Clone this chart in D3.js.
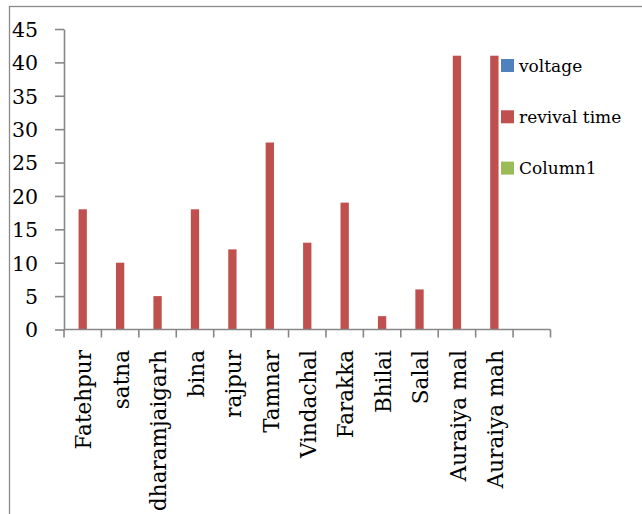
<!DOCTYPE html>
<html>
<head>
<meta charset="utf-8">
<script src="https://cdn.jsdelivr.net/npm/d3@7"></script>
<style>
  html, body { margin: 0; padding: 0; background: #fff; }
  svg { display: block; }
</style>
</head>
<body>
<svg id="chart" width="642" height="514"></svg>
<script>
// Stations (the last slot is an empty category)
const categories = ["Fatehpur", "satna", "dharamjaigarh", "bina", "rajpur", "Tamnar",
  "Vindachal", "Farakka", "Bhilai", "Salal", "Auraiya mal", "Auraiya mah", ""];
const seriesNames = ["voltage", "revival time", "Column1"];
const seriesColors = ["#4F81BD", "#C0504D", "#9BBB59"];
const voltage = [null, null, null, null, null, null, null, null, null, null, null, null, null];
const revivalTime = [18, 10, 5, 18, 12, 28, 13, 19, 2, 6, 41, 41, null];
const column1 = [null, null, null, null, null, null, null, null, null, null, null, null, null];
const yTicks = [0, 5, 10, 15, 20, 25, 30, 35, 40, 45];

const seriesValues = [voltage, revivalTime, column1];
const svg = d3.select("#chart");
const axisColor = "#878787";
const font = "'DejaVu Serif', serif";

// outer frame of the chart area
svg.append("rect")
  .attr("x", 9.5).attr("y", 6.5)
  .attr("width", 700).attr("height", 600)
  .attr("fill", "none").attr("stroke", "#8a8a8a").attr("stroke-width", 1.3);

const plot = { left: 64, right: 550.5, top: 29, bottom: 329.5 };

const x = d3.scaleBand().domain(d3.range(categories.length))
  .range([plot.left, plot.right]).paddingInner(0).paddingOuter(0);
const x1 = d3.scaleBand().domain(seriesNames)
  .range([0, x.bandwidth()]).paddingInner(0).paddingOuter(0.75);
const y = d3.scaleLinear().domain([0, 45]).range([plot.bottom, plot.top]);

// bars
seriesNames.forEach((name, si) => {
  svg.append("g").selectAll("rect")
    .data(seriesValues[si].map((v, i) => ({ v, i })).filter(d => d.v != null))
    .join("rect")
    .attr("x", d => x(d.i) + x1(name))
    .attr("width", x1.bandwidth())
    .attr("y", d => y(d.v))
    .attr("height", d => y(0) - y(d.v))
    .attr("fill", seriesColors[si]);
});

// y axis
const yAxis = svg.append("g")
  .attr("transform", `translate(${plot.left},0)`)
  .call(d3.axisLeft(y).tickValues(yTicks).tickSize(9).tickSizeOuter(0).tickPadding(17));
yAxis.select(".domain").attr("stroke", axisColor).attr("stroke-width", 1.6);
yAxis.selectAll(".tick line").attr("stroke", axisColor).attr("stroke-width", 1.6);
yAxis.selectAll(".tick text")
  .attr("fill", "#000").style("font-family", font).style("font-size", "20.5px")
  .attr("dy", "0.36em");

// x axis with boundary ticks between categories
const xg = svg.append("g");
xg.append("line")
  .attr("x1", plot.left).attr("x2", plot.right)
  .attr("y1", plot.bottom).attr("y2", plot.bottom)
  .attr("stroke", axisColor).attr("stroke-width", 1.6);
xg.selectAll("line.tk")
  .data(d3.range(categories.length + 1))
  .join("line").attr("class", "tk")
  .attr("x1", i => plot.left + i * x.step()).attr("x2", i => plot.left + i * x.step())
  .attr("y1", plot.bottom).attr("y2", plot.bottom + 8)
  .attr("stroke", axisColor).attr("stroke-width", 1.6);
xg.selectAll("text")
  .data(categories.map((c, i) => ({ c, i })))
  .join("text")
  .attr("transform", d => `translate(${x(d.i) + x.bandwidth() / 2 + 1},350) rotate(-90)`)
  .attr("text-anchor", "end")
  .attr("dy", "0.36em")
  .style("font-family", font).style("font-size", "21.5px")
  .attr("fill", "#000")
  .text(d => d.c);

// legend
const legend = svg.append("g").attr("transform", "translate(501,59)");
seriesNames.forEach((name, i) => {
  const g = legend.append("g").attr("transform", `translate(0,${i * 51.3})`);
  g.append("rect").attr("width", 13).attr("height", 13).attr("fill", seriesColors[i]);
  g.append("text").attr("x", 18).attr("y", 12.5)
    .style("font-family", font).style("font-size", "17px").attr("fill", "#000")
    .text(name);
});
</script>
</body>
</html>
